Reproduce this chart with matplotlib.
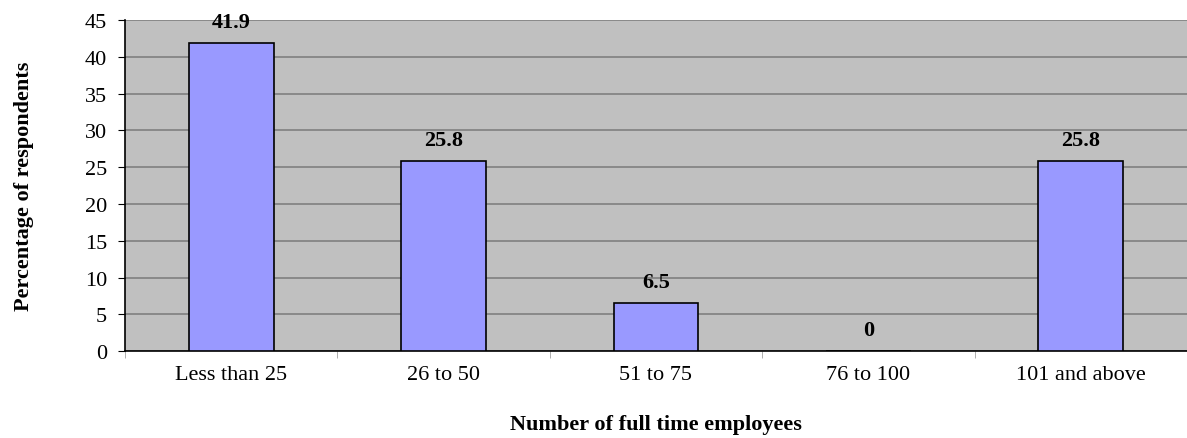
import matplotlib
matplotlib.use("Agg")
import matplotlib.pyplot as plt
import numpy as np

categories = ["Less than 25", "26 to 50", "51 to 75", "76 to 100", "101 and above"]
values = [41.9, 25.8, 6.5, 0, 25.8]
value_labels = ["41.9", "25.8", "6.5", "0", "25.8"]

plt.rcParams['font.family'] = ['Liberation Serif', 'DejaVu Serif']

fig = plt.figure(figsize=(11.87, 4.39), dpi=100)
ax = fig.add_axes([0.1053, 0.198, 0.8947, 0.754])
ax.set_facecolor('#C0C0C0')

x = np.arange(len(categories))
ax.bar(x, values, width=0.4, color='#9999FF', edgecolor='black', linewidth=1.2, zorder=3)

for xi, v, lab in zip(x, values, value_labels):
    ax.annotate(lab, (xi, v), xytext=(0, 8), textcoords='offset points',
                ha='center', va='bottom', fontsize=16, fontweight='bold', zorder=4)

ax.set_xlim(-0.5, len(categories) - 0.5)
ax.set_ylim(0, 45)
ax.set_yticks(np.arange(0, 46, 5))
ax.yaxis.grid(True, color='#808080', linewidth=1.2, zorder=1)
ax.set_axisbelow(True)

ax.set_xticks(x)
ax.set_xticklabels(categories, fontsize=16)
ax.set_xticks(np.arange(-0.5, len(categories), 1), minor=True)
ax.tick_params(axis='x', which='major', length=0, pad=10)
ax.tick_params(axis='x', which='minor', length=5, color='#A0A0A0', direction='out')
ax.tick_params(axis='y', labelsize=16, length=5, pad=8, direction='out', color='black')

for s in ['top', 'right']:
    ax.spines[s].set_visible(False)
for s in ['left', 'bottom']:
    ax.spines[s].set_color('black')
    ax.spines[s].set_linewidth(1.2)

ax.set_ylabel("Percentage of respondents", fontsize=16, fontweight='bold')
ax.yaxis.set_label_coords(-0.086, 0.5)
ax.set_xlabel("Number of full time employees", fontsize=16, fontweight='bold')
ax.xaxis.set_label_coords(0.5, -0.19)

fig.savefig("out.png", dpi=100)
